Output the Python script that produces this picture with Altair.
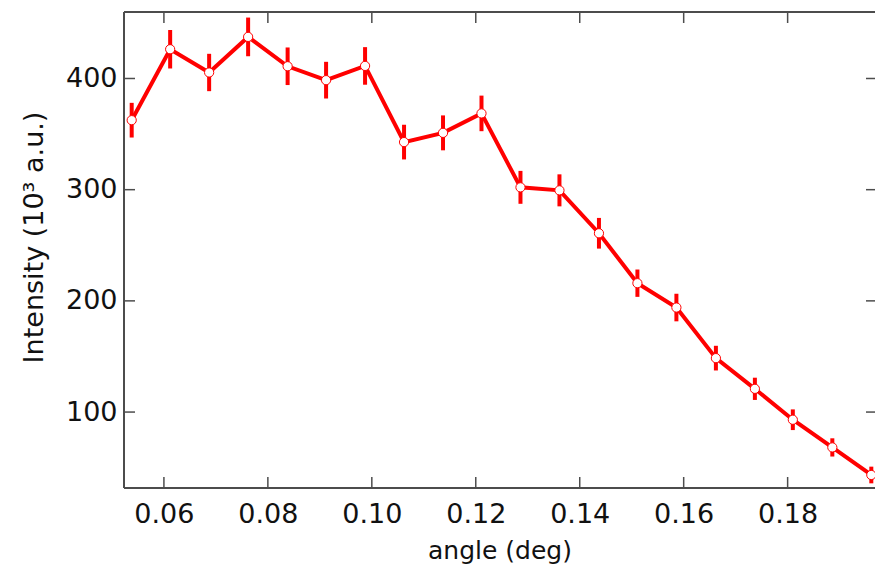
import altair as alt
import pandas as pd

# Data
angles = [0.0538, 0.0612, 0.0687, 0.0762, 0.0838, 0.0912, 0.0987, 0.1062, 0.1137, 0.1211,
          0.1286, 0.1361, 0.1437, 0.1511, 0.1586, 0.1662, 0.1737, 0.1810, 0.1886, 0.1961]
intensity = [362.5, 426.3, 405.4, 437.4, 411.0, 398.5, 411.3, 342.8, 351.1, 368.6,
             302.1, 299.4, 260.8, 215.9, 194.0, 148.5, 120.9, 93.1, 68.2, 43.4]
errors = [15.6, 17.3, 16.8, 17.4, 16.9, 16.5, 16.9, 15.6, 15.7, 16.0,
          14.8, 14.4, 13.8, 12.3, 12.4, 11.1, 10.0, 9.3, 8.2, 7.5]

x_ticks = [0.06, 0.08, 0.10, 0.12, 0.14, 0.16, 0.18]
y_ticks = [100, 200, 300, 400]

x_title = "angle (deg)"
y_title = "Intensity (10³ a.u.)"

W, H = 751, 476
FONT = "DejaVu Sans"
RED = "#ff0000"
FRAME = "#4d4d4d"
TICK_LEN = 11

df = pd.DataFrame({
    "angle": angles,
    "intensity": intensity,
    "lo": [v - e for v, e in zip(intensity, errors)],
    "hi": [v + e for v, e in zip(intensity, errors)],
})
xt = pd.DataFrame({"t": x_ticks})
yt = pd.DataFrame({"t": y_ticks})

# right edge of the frame lies just outside the visible window, as in the reference
xscale = alt.Scale(domain=[0.05232, 0.19681], nice=False, zero=False)
yscale = alt.Scale(domain=[31.7, 459.8], nice=False, zero=False)

xaxis = alt.Axis(values=x_ticks, format=".2f", domain=False, ticks=False, tickSize=0,
                 grid=False, labelFont=FONT, labelFontSize=27, labelPadding=13,
                 labelColor="#111111", labelFlush=False, labelOverlap=False,
                 titleFont=FONT, titleFontSize=25, titleFontWeight="normal",
                 titleColor="#111111", titleBaseline="alphabetic", titleY=70)
yaxis = alt.Axis(values=y_ticks, format="d", domain=False, ticks=False, tickSize=0,
                 grid=False, labelFont=FONT, labelFontSize=27, labelPadding=7,
                 labelColor="#111111", labelFlush=False, labelOverlap=False,
                 titleFont=FONT, titleFontSize=27, titleFontWeight="normal",
                 titleColor="#111111", titleAngle=270, titleAlign="center",
                 titleBaseline="alphabetic", titleX=-82, titleY=225)

X = lambda f: alt.X(f, scale=xscale, axis=xaxis, title=x_title)
Y = lambda f: alt.Y(f, scale=yscale, axis=yaxis, title=y_title)

base = alt.Chart(df)

errbars = base.mark_rule(color=RED, strokeWidth=4, strokeCap="butt").encode(
    x=X("angle:Q"), y=Y("lo:Q"), y2="hi:Q")
line = base.mark_line(color=RED, strokeWidth=4).encode(
    x=X("angle:Q"), y=Y("intensity:Q"))
points = base.mark_circle(fill="white", stroke=RED, strokeWidth=1, size=85,
                          opacity=1, fillOpacity=1).encode(
    x=X("angle:Q"), y=Y("intensity:Q"))

tick_style = dict(color=FRAME, strokeWidth=1.5)
bottom_ticks = alt.Chart(xt).mark_rule(**tick_style).encode(
    x=X("t:Q"), y=alt.value(H), y2=alt.value(H - TICK_LEN))
top_ticks = alt.Chart(xt).mark_rule(**tick_style).encode(
    x=X("t:Q"), y=alt.value(0), y2=alt.value(TICK_LEN))
left_ticks = alt.Chart(yt).mark_rule(**tick_style).encode(
    y=Y("t:Q"), x=alt.value(0), x2=alt.value(TICK_LEN))
right_ticks = alt.Chart(yt).mark_rule(**tick_style).encode(
    y=Y("t:Q"), x=alt.value(W - 9), x2=alt.value(W))

frame_style = dict(color=FRAME, strokeWidth=1.5)
frame_top = alt.Chart(xt).mark_rule(**frame_style).encode(
    x=alt.value(0), x2=alt.value(W), y=alt.value(0))
frame_bottom = alt.Chart(xt).mark_rule(**frame_style).encode(
    x=alt.value(0), x2=alt.value(W), y=alt.value(H))
frame_left = alt.Chart(xt).mark_rule(**frame_style).encode(
    x=alt.value(0), y=alt.value(0), y2=alt.value(H))

chart = alt.layer(
    frame_top, frame_bottom, frame_left,
    bottom_ticks, top_ticks, left_ticks, right_ticks, errbars, line, points
).properties(
    width=W, height=H,
    autosize=alt.AutoSizeParams(type="none"),
    padding={"left": 116, "top": 4, "right": 0, "bottom": 77},
    background="white",
).configure_view(strokeWidth=0)

chart.save("out.html", embed_options={"renderer": "svg", "actions": False})
